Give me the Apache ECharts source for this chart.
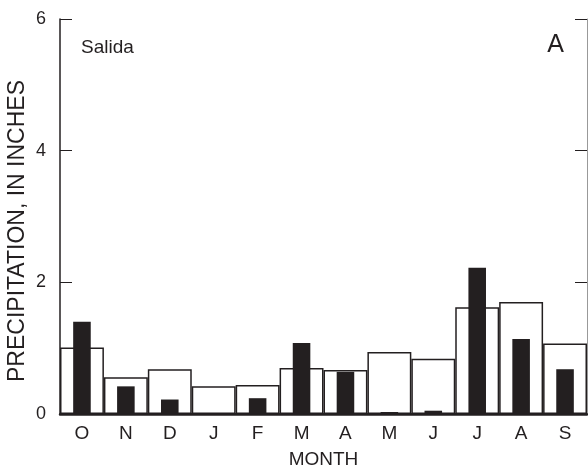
<!DOCTYPE html>
<html>
<head>
<meta charset="utf-8">
<script src="https://cdn.jsdelivr.net/npm/echarts@6/dist/echarts.min.js"></script>
<style>
  html, body { margin: 0; padding: 0; background: #fff; }
  #chart { width: 588px; height: 473px; }
</style>
</head>
<body>
<div id="chart"></div>
<script>
// water-year months, Oct..Sep
const months = ['O', 'N', 'D', 'J', 'F', 'M', 'A', 'M', 'J', 'J', 'A', 'S']
// open bars (long-term mean) and solid bars (the year shown)
const meanPrecip = [1.01, 0.56, 0.68, 0.42, 0.44, 0.70, 0.67, 0.94, 0.84, 1.62, 1.70, 1.07]
const yearPrecip = [1.40, 0.42, 0.22, 0, 0.24, 1.08, 0.64, 0.03, 0.05, 2.22, 1.14, 0.68]
const yTicks = [0, 2, 4, 6]

const ink = '#231f20'
const font = 'Liberation Sans, Arial, sans-serif'

const chart = echarts.init(document.getElementById('chart'))

chart.setOption({
  animation: false,
  textStyle: { fontFamily: font },
  title: [
    { text: 'Salida', left: 76, top: 33, textStyle: { fontSize: 19, fontWeight: 'normal', color: ink, fontFamily: font } },
    { text: 'A', right: 19, top: 28, textStyle: { fontSize: 25, fontWeight: 'normal', color: ink, fontFamily: font } }
  ],
  // y title sits a bit below the plot's middle, so place it by hand
  graphic: [
    {
      type: 'text',
      x: 18,
      y: 231,
      rotation: Math.PI / 2,
      style: { text: 'PRECIPITATION, IN INCHES', fill: ink, font: '23px ' + font, align: 'center', verticalAlign: 'middle' }
    }
  ],
  grid: { left: 60, right: 1, top: 19, bottom: 59, containLabel: false, outerBoundsMode: 'none' },
  xAxis: [
    {
      type: 'category',
      data: months,
      name: 'MONTH',
      nameLocation: 'middle',
      nameGap: 36,
      nameTextStyle: { fontSize: 19, color: ink },
      axisLine: { lineStyle: { color: ink, width: 2.5 } },
      axisTick: { show: false },
      axisLabel: { fontSize: 19, color: ink, margin: 10 },
      z: 5
    },
    {
      type: 'category',
      data: months,
      position: 'top',
      axisLine: { lineStyle: { color: ink, width: 1.5 } },
      axisTick: { show: false },
      axisLabel: { show: false }
    }
  ],
  yAxis: [
    {
      type: 'value',
      min: 0,
      max: 6,
      interval: 2,
      axisLine: { show: true, lineStyle: { color: ink, width: 1.5 } },
      axisTick: { show: true, inside: true, length: 12, lineStyle: { color: ink } },
      axisLabel: { fontSize: 18, color: ink, margin: 14, formatter: v => yTicks.includes(v) ? String(v) : '' },
      splitLine: { show: false }
    },
    {
      type: 'value',
      min: 0,
      max: 6,
      interval: 2,
      position: 'right',
      axisLine: { show: true, lineStyle: { color: '#999', width: 1 } },
      axisTick: { show: true, inside: true, length: 12, lineStyle: { color: ink } },
      axisLabel: { show: false },
      splitLine: { show: false }
    }
  ],
  series: [
    {
      type: 'bar',
      data: meanPrecip,
      xAxisIndex: 0,
      barWidth: '100%',
      itemStyle: { color: '#fff', borderColor: ink, borderWidth: 1.5 },
      z: 2
    },
    {
      // on the twin top axis so it centres in the same slot as the open bar
      type: 'bar',
      data: yearPrecip,
      xAxisIndex: 1,
      barWidth: '40%',
      itemStyle: { color: ink },
      z: 3
    }
  ]
})
</script>
</body>
</html>
